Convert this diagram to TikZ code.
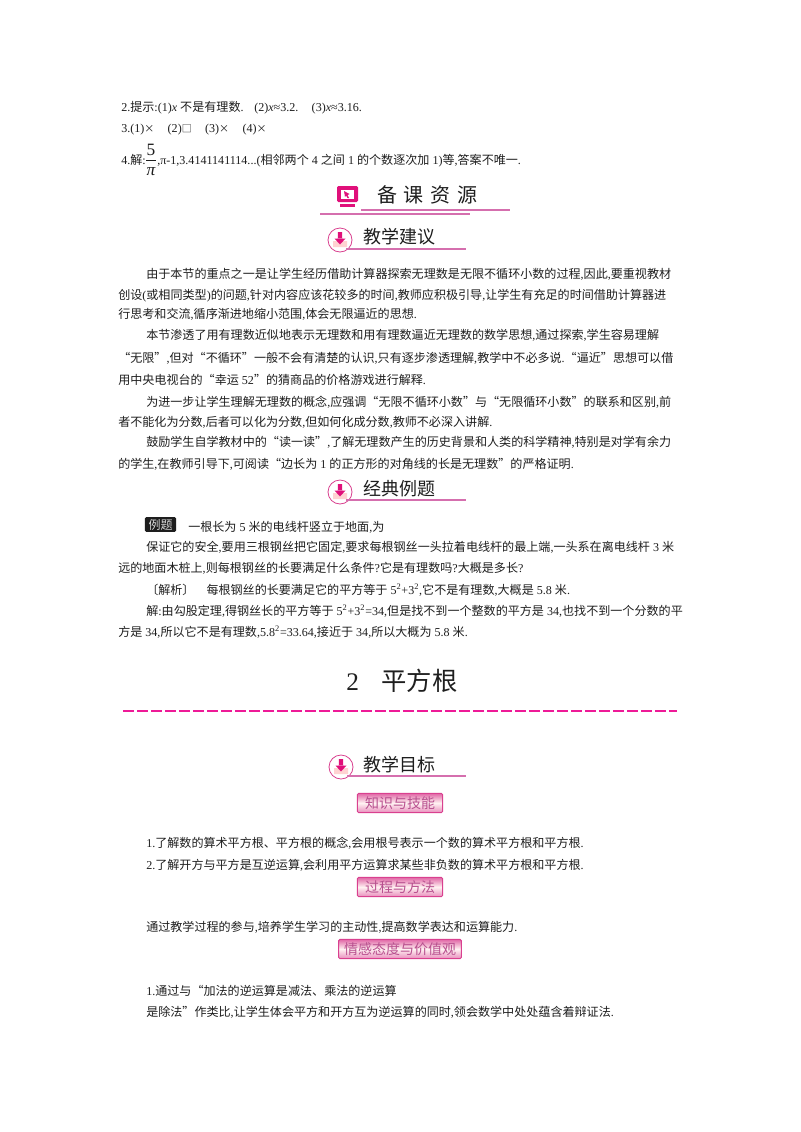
\documentclass[tikz,border=0pt]{standalone}
\usepackage{fontspec}
\setmainfont{Liberation Serif}
\newfontfamily\cjkfam{Noto Sans CJK SC}
\chardef\cjkclass=77
\count255="4E00
\loop\ifnum\count255<"A000 \XeTeXcharclass\count255=\cjkclass \advance\count255 by 1 \repeat
\count255="3000
\loop\ifnum\count255<"3040 \XeTeXcharclass\count255=\cjkclass \advance\count255 by 1 \repeat
\XeTeXcharclass"201C=\cjkclass
\XeTeXcharclass"201D=\cjkclass
\XeTeXcharclass"00D7=\cjkclass
\XeTeXcharclass"25A1=\cjkclass
\XeTeXinterchartoks 0 \cjkclass={\cjkfam}
\XeTeXinterchartoks 4095 \cjkclass={\cjkfam}
\XeTeXinterchartoks \cjkclass 0={\rmfamily}
\XeTeXinterchartoks \cjkclass 4095={\rmfamily}
\XeTeXinterchartokenstate=1
\definecolor{ink}{HTML}{1E1E1E}
\definecolor{rosepink}{HTML}{D9408F}
\definecolor{rule}{HTML}{D56FAE}
\definecolor{hot}{HTML}{E0107A}
\definecolor{badgetext}{HTML}{B8508F}
\newcounter{bl}
\tikzset{
  bodytext/.style={anchor=base west,inner sep=0pt,text=ink,font=\fontsize{9.05}{11}\selectfont},
  headtext/.style={anchor=base west,inner sep=0pt,text=ink,font=\fontsize{13.5}{16}\selectfont},
  badge/.style={rounded corners=1pt,draw=rosepink,line width=0.7pt,top color=rosepink!80!white,bottom color=rosepink!60!white,middle color=pink!20!white,minimum height=14.5pt,inner sep=0pt,text=badgetext,font=\fontsize{10.5}{12}\selectfont},
  headrule/.style={draw=rule,line width=0.8pt},
}
\newcommand{\bodyline}[3]{\stepcounter{bl}\node[bodytext] (line\arabic{bl}) at (#1,#2+4.2) {#3};}
\newcommand{\smallmark}[1]{{\fontsize{7.5}{9}\selectfont #1}}
\newcommand{\headicon}[2]{%
  \fill[pink!70!white] (#1-7,#2+1) -- (#1-3,#2+1) -- (#1,#2+4) -- (#1+3,#2+1) -- (#1+7,#2+1) -- (#1+7,#2+7) -- (#1-7,#2+7) -- cycle;
  \fill[hot] (#1-2.2,#2-8) rectangle (#1+2.2,#2-1) (#1-5.5,#2-1.5) -- (#1+5.5,#2-1.5) -- (#1,#2+4.5) -- cycle;
  \draw[rosepink,line width=0.6pt,fill=none] (#1,#2) circle (12);}
\begin{document}
\begin{tikzpicture}[x=0.75pt,y=-0.75pt]
\useasboundingbox (0,0) rectangle (800,1132);
\fill[white] (0,0) rectangle (800,1132);
% answers
\bodyline{121}{107}{2.提示:(1)\textit{x} 不是有理数.\hspace{8pt}(2)\textit{x}≈3.2.\hspace{10pt}(3)\textit{x}≈3.16.}
\bodyline{121}{128}{3.(1)\smallmark{×}\hspace{10pt}(2)\smallmark{□}\hspace{10pt}(3)\smallmark{×}\hspace{10pt}(4)\smallmark{×}}
\bodyline{121}{160}{4.解:}
\node[anchor=center,inner sep=0pt,text=ink,font=\fontsize{13}{15}\selectfont] (fivenum) at (151,150) {5};
\node[anchor=center,inner sep=0pt,text=ink,font=\fontsize{13}{15}\selectfont\itshape] (pidenom) at (151,172) {π};
\draw[ink,line width=0.6pt] (146,160.5) -- (156,160.5);
\bodyline{157}{160}{,π-1,3.4141141114...(相邻两个 4 之间 1 的个数逐次加 1)等,答案不唯一.}
% resources header
\fill[hot,rounded corners=1pt] (337,186) rectangle (358,202);
\fill[white] (341,190) rectangle (354,199);
\fill[hot] (344,191) -- (349.5,194) -- (347.5,195) -- (349,198) -- (347.5,198) -- (346,195.5) -- (345,197) -- cycle;
\fill[hot] (340,204) rectangle (355,207);
\node[anchor=base west,inner sep=0pt,text=ink,font=\fontsize{15}{18}\selectfont] (beike) at (377,202.5) {备\hspace{5pt}课\hspace{5pt}资\hspace{5pt}源};
\draw[headrule] (361,210) -- (510,210);
\draw[headrule] (320,214) -- (470,214);
% teaching advice
\headicon{340}{240}
\node[headtext] (h1) at (363,243.5) {教学建议};
\draw[headrule] (346,249) -- (466,249);
\bodyline{146}{274}{由于本节的重点之一是让学生经历借助计算器探索无理数是无限不循环小数的过程,因此,要重视教材}
\bodyline{118}{295}{创设(或相同类型)的问题,针对内容应该花较多的时间,教师应积极引导,让学生有充足的时间借助计算器进}
\bodyline{118}{314}{行思考和交流,循序渐进地缩小范围,体会无限逼近的思想.}
\bodyline{146}{335}{本节渗透了用有理数近似地表示无理数和用有理数逼近无理数的数学思想,通过探索,学生容易理解}
\bodyline{118}{358}{“无限”,但对“不循环”一般不会有清楚的认识,只有逐步渗透理解,教学中不必多说.“逼近”思想可以借}
\bodyline{118}{380}{用中央电视台的“幸运 52”的猜商品的价格游戏进行解释.}
\bodyline{146}{402}{为进一步让学生理解无理数的概念,应强调“无限不循环小数”与“无限循环小数”的联系和区别,前}
\bodyline{118}{422}{者不能化为分数,后者可以化为分数,但如何化成分数,教师不必深入讲解.}
\bodyline{146}{442}{鼓励学生自学教材中的“读一读”,了解无理数产生的历史背景和人类的科学精神,特别是对学有余力}
\bodyline{118}{464}{的学生,在教师引导下,可阅读“边长为 1 的正方形的对角线的长是无理数”的严格证明.}
% example
\headicon{340}{492}
\node[headtext] (h2) at (363,495.5) {经典例题};
\draw[headrule] (346,500) -- (466,500);
\node[fill=ink,rounded corners=1pt,minimum width=23.5pt,minimum height=11pt,inner sep=0pt,text=white!85!black,font=\fontsize{9}{10}\selectfont] (liti) at (160.5,524.5) {例题};
\bodyline{188}{527}{一根长为 5 米的电线杆竖立于地面,为}
\bodyline{146}{547}{保证它的安全,要用三根钢丝把它固定,要求每根钢丝一头拉着电线杆的最上端,一头系在离电线杆 3 米}
\bodyline{118}{568}{远的地面木桩上,则每根钢丝的长要满足什么条件?它是有理数吗?大概是多长?}
\bodyline{146}{590}{〔解析〕\hspace{9pt}每根钢丝的长要满足它的平方等于 5\textsuperscript{2}+3\textsuperscript{2},它不是有理数,大概是 5.8 米.}
\bodyline{146}{611}{解:由勾股定理,得钢丝长的平方等于 5\textsuperscript{2}+3\textsuperscript{2}=34,但是找不到一个整数的平方是 34,也找不到一个分数的平}
\bodyline{118}{632}{方是 34,所以它不是有理数,5.8\textsuperscript{2}=33.64,接近于 34,所以大概为 5.8 米.}
% title
\node[anchor=base west,inner sep=0pt,text=ink,font=\fontsize{19}{23}\selectfont] (title) at (346,690) {2\hspace{17pt}平方根};
\coordinate (dashL) at (123,711);
\coordinate (dashR) at (677,711);
\draw[magenta!90!white,line width=0.8pt,dash pattern=on 7.9pt off 2.6pt] (dashL) -- (dashR);
% aims
\headicon{341}{767}
\node[headtext] (h3) at (363,771) {教学目标};
\draw[headrule] (347,776) -- (466,776);
\node[badge,minimum width=64pt] (b1) at (400,803) {知识与技能};
\bodyline{146}{843}{1.了解数的算术平方根、平方根的概念,会用根号表示一个数的算术平方根和平方根.}
\bodyline{146}{865}{2.了解开方与平方是互逆运算,会利用平方运算求某些非负数的算术平方根和平方根.}
\node[badge,minimum width=64pt] (b2) at (400,887) {过程与方法};
\bodyline{146}{927}{通过教学过程的参与,培养学生学习的主动性,提高数学表达和运算能力.}
\node[badge,minimum width=92pt] (b3) at (400,949) {情感态度与价值观};
\bodyline{146}{991}{1.通过与“加法的逆运算是减法、乘法的逆运算}
\bodyline{146}{1012}{是除法”作类比,让学生体会平方和开方互为逆运算的同时,领会数学中处处蕴含着辩证法.}
\end{tikzpicture}
\end{document}
